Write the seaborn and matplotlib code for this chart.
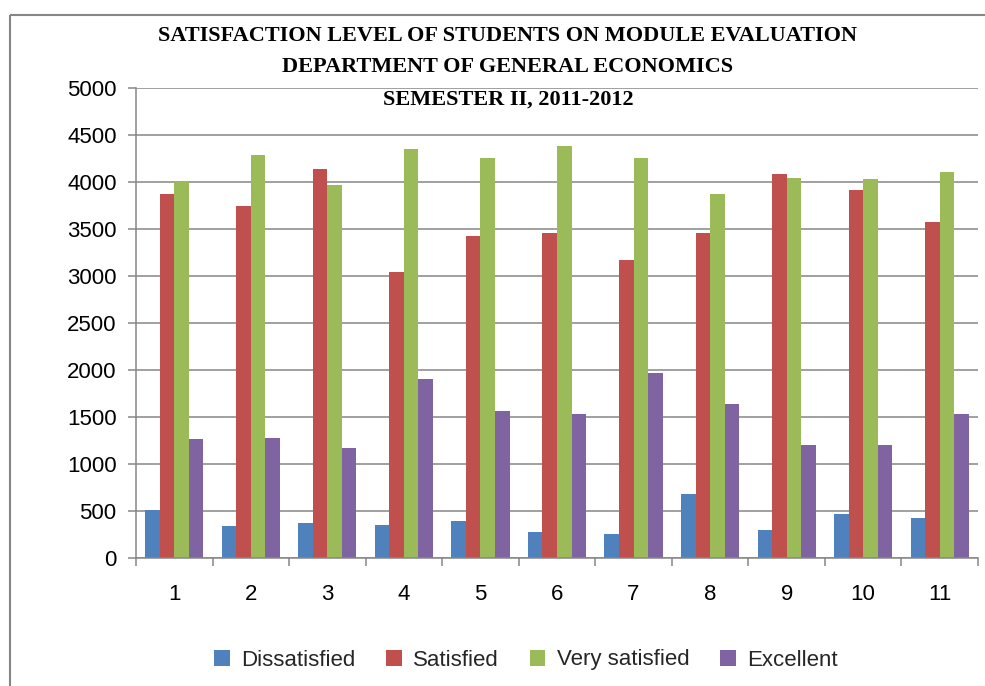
import matplotlib
matplotlib.use("Agg")
import matplotlib.pyplot as plt
from matplotlib.lines import Line2D
from matplotlib.patches import Patch
import seaborn as sns
import pandas as pd

# Module numbers and satisfaction counts per response category
modules = ["1", "2", "3", "4", "5", "6", "7", "8", "9", "10", "11"]
dissatisfied = [512, 341, 373, 352, 394, 277, 256, 682, 298, 469, 426]
satisfied = [3869, 3741, 4136, 3038, 3422, 3453, 3166, 3453, 4082, 3912, 3571]
very_satisfied = [4000, 4285, 3965, 4349, 4253, 4381, 4253, 3869, 4040, 4029, 4104]
excellent = [1268, 1279, 1172, 1908, 1567, 1535, 1972, 1641, 1204, 1204, 1535]

series_names = ["Dissatisfied", "Satisfied", "Very satisfied", "Excellent"]
series_colors = ["#4F81BD", "#C0504D", "#9BBB59", "#8064A2"]
y_ticks = [0, 500, 1000, 1500, 2000, 2500, 3000, 3500, 4000, 4500, 5000]
title_lines = [
    "SATISFACTION LEVEL OF STUDENTS ON MODULE EVALUATION",
    "DEPARTMENT OF GENERAL ECONOMICS",
    "SEMESTER II, 2011-2012",
]

rows = []
for name, vals in zip(series_names, [dissatisfied, satisfied, very_satisfied, excellent]):
    for m, v in zip(modules, vals):
        rows.append({"Module": m, "Level": name, "Count": v})
df = pd.DataFrame(rows)

sns.set_theme(style="white")
plt.rcParams["font.family"] = ["Liberation Sans", "DejaVu Sans"]

grid_color = "#868686"
fig = plt.figure(figsize=(9.85, 6.86), dpi=100)
ax = fig.add_axes([136 / 985, 1 - 558 / 686, (978 - 136) / 985, (558 - 88) / 686])

sns.barplot(
    data=df, x="Module", y="Count", hue="Level",
    order=modules, hue_order=series_names, palette=series_colors,
    saturation=1, width=0.76, gap=0, linewidth=0, ax=ax, legend=False,
)

ax.set_ylim(0, 5000)
ax.set_xlim(-0.5, len(modules) - 0.5)
ax.set_yticks(y_ticks)
ax.set_yticklabels([str(t) for t in y_ticks])
ax.set_xlabel("")
ax.set_ylabel("")
ax.yaxis.grid(True, color=grid_color, linewidth=1.1)
ax.set_axisbelow(True)
for side in ["top", "right"]:
    ax.spines[side].set_visible(False)
for side in ["left", "bottom"]:
    ax.spines[side].set_color(grid_color)
    ax.spines[side].set_linewidth(1.1)

ax.tick_params(axis="y", which="major", length=6, width=1.1, color=grid_color,
               pad=8, labelsize=16, labelcolor="black", left=True)
ax.tick_params(axis="x", which="major", length=0, pad=19, labelsize=16, labelcolor="black")
ax.set_xticks([i - 0.5 for i in range(len(modules) + 1)], minor=True)
ax.tick_params(axis="x", which="minor", length=6, width=1.1, color=grid_color,
               direction="out", bottom=True)

# Three-line centred title
title_y = [1 - 36 / 686, 1 - 67 / 686, 1 - 100 / 686]
for txt, ty in zip(title_lines, title_y):
    fig.text(508 / 985, ty, txt, ha="center", va="center", fontsize=16,
             fontweight="bold", family=["Liberation Serif", "DejaVu Serif"], color="black")

handles = [Patch(facecolor=c, edgecolor="none") for c in series_colors]
fig.legend(handles, series_names, loc="center", bbox_to_anchor=(526 / 985, 1 - 660 / 686),
           ncol=4, frameon=False, fontsize=16, handlelength=0.7, handleheight=0.7,
           handletextpad=0.5, columnspacing=1.4)

# Outer chart frame (top and left edges, running off the right and bottom)
fig.add_artist(Line2D([10 / 985, 1.05], [1 - 15 / 686, 1 - 15 / 686], transform=fig.transFigure,
                      color=grid_color, linewidth=1.5, solid_capstyle="butt", clip_on=False))
fig.add_artist(Line2D([10 / 985, 10 / 985], [-0.05, 1 - 15 / 686], transform=fig.transFigure,
                      color=grid_color, linewidth=1.5, solid_capstyle="butt", clip_on=False))

fig.savefig("out.png", dpi=100, facecolor="white")
